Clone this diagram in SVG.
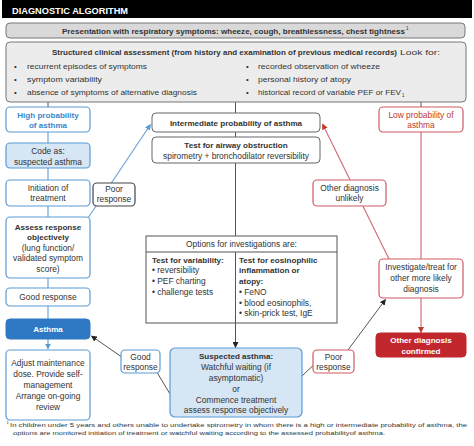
<svg xmlns="http://www.w3.org/2000/svg" width="474" height="446" viewBox="0 0 474 446">
<style>
text{font-family:"Liberation Sans",Arial,sans-serif;fill:#333;font-size:8.4px}
.c{text-anchor:middle}
.b{font-weight:bold;font-size:8.1px}
.box{fill:#fff;stroke:#666;stroke-width:1}
.blue{fill:#fff;stroke:#5b9bd5;stroke-width:1.2}
.lblue{fill:#d6e6f4;stroke:#5b9bd5;stroke-width:1.2}
.red{fill:#fff;stroke:#cf5a63;stroke-width:1.2}
.bt{fill:#3b86c8}
.rt{fill:#c0392b}
.w{fill:#fff}
.ln{stroke:#555;stroke-width:1;fill:none}
.lb{stroke:#6fa4d8;stroke-width:1.2;fill:none}
.lr{stroke:#d0707a;stroke-width:1.2;fill:none}
.fn{font-size:6.2px}
.s{font-size:7.8px}
</style>
<defs>
<marker id="ab" viewBox="0 0 10 10" refX="9" refY="5" markerWidth="6" markerHeight="6" markerUnits="userSpaceOnUse" orient="auto"><path d="M0,0L10,5L0,10z" fill="#5b9bd5"/></marker>
<marker id="ar" viewBox="0 0 10 10" refX="9" refY="5" markerWidth="6" markerHeight="6" markerUnits="userSpaceOnUse" orient="auto"><path d="M0,0L10,5L0,10z" fill="#c0392b"/></marker>
<marker id="ak" viewBox="0 0 10 10" refX="9" refY="5" markerWidth="6" markerHeight="6" markerUnits="userSpaceOnUse" orient="auto"><path d="M0,0L10,5L0,10z" fill="#222"/></marker>
</defs>
<rect width="474" height="446" fill="#fff"/>

<g id="header">
<rect x="2" y="0" width="470" height="18" fill="#000"/>
<text x="12" y="13.5" class="b w" style="font-size:8.5px" textLength="116" lengthAdjust="spacingAndGlyphs">DIAGNOSTIC ALGORITHM</text>
</g>

<g id="connectors">
<line class="ln" x1="48" y1="102" x2="48" y2="107"/>
<line class="lb" x1="48" y1="107" x2="48" y2="349" marker-end="url(#ab)"/>
<line class="ln" x1="235.5" y1="102" x2="235.5" y2="113"/>
<line class="ln" x1="235.5" y1="132" x2="235.5" y2="137"/>
<line class="ln" x1="235.5" y1="163" x2="235.5" y2="236"/>
<line class="ln" x1="235.5" y1="323" x2="235.5" y2="347.5" marker-end="url(#ak)"/>
<line class="ln" x1="421" y1="102" x2="421" y2="107"/>
<line class="lr" x1="421" y1="132" x2="421" y2="259"/>
<line class="lr" x1="421" y1="298" x2="421" y2="332.5" marker-end="url(#ar)"/>
<line class="lb" x1="88" y1="218" x2="150.5" y2="124.5" marker-end="url(#ab)"/>
<line class="lr" x1="389" y1="259" x2="322.5" y2="124" marker-end="url(#ar)"/>
<line class="ln" x1="170" y1="394" x2="152" y2="364"/>
<line class="ln" x1="126" y1="360" x2="91.5" y2="336" marker-end="url(#ak)"/>
<line class="ln" x1="302" y1="376" x2="322" y2="357"/>
<line class="ln" x1="342" y1="358" x2="385.5" y2="299.5" marker-end="url(#ak)"/>
</g>

<g id="presentation">
<rect x="6" y="23" width="459" height="15" rx="4" fill="#d9d9d9" stroke="#777"/>
<text x="62" y="33.5" class="b" style="font-size:8px" textLength="343" lengthAdjust="spacingAndGlyphs">Presentation with respiratory symptoms:  wheeze, cough, breathlessness, chest tightness</text>
<text x="406" y="29.5" style="font-size:4.5px">1</text>
</g>

<g id="assessment">
<rect x="6" y="42" width="460" height="60" rx="4" fill="#ececec" stroke="#777"/>
<text x="52" y="54.5" class="b" style="font-size:8px" textLength="345" lengthAdjust="spacingAndGlyphs">Structured clinical assessment (from history and examination of previous medical records)</text>
<text x="400" y="54.5" class="s" textLength="40" lengthAdjust="spacingAndGlyphs">Look for:</text>
<text x="14" y="68.5" class="s">•</text><text x="27" y="68.5" class="s" textLength="120" lengthAdjust="spacingAndGlyphs">recurrent episodes of symptoms</text>
<text x="14" y="81.5" class="s">•</text><text x="27" y="81.5" class="s" textLength="75" lengthAdjust="spacingAndGlyphs">symptom variability</text>
<text x="14" y="95" class="s">•</text><text x="27" y="95" class="s" textLength="170" lengthAdjust="spacingAndGlyphs">absence of symptoms of alternative diagnosis</text>
<text x="246" y="68.5" class="s">•</text><text x="258" y="68.5" class="s" textLength="122" lengthAdjust="spacingAndGlyphs">recorded observation of wheeze</text>
<text x="246" y="81.5" class="s">•</text><text x="258" y="81.5" class="s" textLength="93" lengthAdjust="spacingAndGlyphs">personal history of atopy</text>
<text x="246" y="95" class="s">•</text><text x="258" y="95" class="s" textLength="143" lengthAdjust="spacingAndGlyphs">historical record of variable PEF or FEV</text><text x="402" y="96.5" style="font-size:4.5px">1</text>
</g>

<g id="high">
<rect class="blue" x="6" y="107" width="84" height="25" rx="4"/>
<text x="48" y="117.5" class="c b bt">High probability</text>
<text x="48" y="128" class="c b bt">of asthma</text>
</g>
<g id="code">
<rect class="lblue" x="6" y="143" width="84" height="25" rx="4"/>
<text x="48" y="154" class="c">Code as:</text>
<text x="48" y="164.5" class="c">suspected asthma</text>
</g>
<g id="initiation">
<rect class="blue" x="6" y="180" width="84" height="26" rx="4"/>
<text x="48" y="190.5" class="c">Initiation of</text>
<text x="48" y="201" class="c">treatment</text>
</g>
<g id="poor-left">
<rect class="box" x="93" y="183" width="42" height="23" rx="4" style="stroke:#444;stroke-width:1.2"/>
<text x="114" y="191.5" class="c">Poor</text>
<text x="114" y="202" class="c">response</text>
</g>
<g id="assess">
<rect class="blue" x="6" y="217" width="84" height="61" rx="4"/>
<text x="48" y="229.5" class="c b">Assess response</text>
<text x="48" y="240" class="c b">objectively</text>
<text x="48" y="250.5" class="c">(lung function/</text>
<text x="48" y="261" class="c">validated symptom</text>
<text x="48" y="271.5" class="c">score)</text>
</g>
<g id="good-left">
<rect class="blue" x="6" y="288" width="84" height="18" rx="4"/>
<text x="48" y="300" class="c">Good response</text>
</g>
<g id="asthma">
<rect x="6" y="319" width="84" height="20" rx="4" fill="#2f78c4" stroke="#2f78c4"/>
<text x="48" y="332" class="c b w">Asthma</text>
</g>
<g id="adjust">
<rect class="blue" x="6" y="350" width="84" height="70" rx="4"/>
<text x="48" y="366" class="c">Adjust maintenance</text>
<text x="48" y="377" class="c">dose. Provide self-</text>
<text x="48" y="388" class="c">management</text>
<text x="48" y="399" class="c">Arrange on-going</text>
<text x="48" y="410" class="c">review</text>
</g>

<g id="intermediate">
<rect class="box" x="152" y="113" width="168" height="19" rx="4"/>
<text x="236" y="125.5" class="c b">Intermediate probability of asthma</text>
</g>
<g id="test">
<rect class="box" x="152" y="137" width="168" height="26" rx="4"/>
<text x="236" y="147.5" class="c b">Test for airway obstruction</text>
<text x="236" y="158.5" class="c">spirometry + bronchodilator reversibility</text>
</g>
<g id="options">
<rect x="146" y="236" width="191" height="87" fill="#fff" stroke="#555"/>
<line x1="146" y1="252" x2="337" y2="252" stroke="#555"/>
<line x1="235.5" y1="252" x2="235.5" y2="323" stroke="#555"/>
<text x="241.5" y="246.5" class="c">Options for investigations are:</text>
<text x="152" y="262.5" class="b">Test for variability:</text>
<text x="152" y="273">• reversibility</text>
<text x="152" y="284">• PEF charting</text>
<text x="152" y="295">• challenge tests</text>
<text x="239" y="262.5" class="b">Test for eosinophilic</text>
<text x="239" y="273" class="b">inflammation or</text>
<text x="239" y="284" class="b">atopy:</text>
<text x="239" y="295">• FeNO</text>
<text x="239" y="305.5">• blood eosinophils,</text>
<text x="239" y="316">• skin-prick test, IgE</text>
</g>
<g id="good-center">
<rect class="blue" x="121" y="350" width="39" height="23" rx="4"/>
<text x="140.5" y="359.5" class="c">Good</text>
<text x="140.5" y="370" class="c">response</text>
</g>
<g id="suspected">
<rect class="lblue" x="170" y="348" width="132" height="69" rx="5"/>
<text x="236" y="358.5" class="c b">Suspected asthma:</text>
<text x="236" y="369.5" class="c">Watchful waiting (if</text>
<text x="236" y="380.5" class="c">asymptomatic)</text>
<text x="236" y="391.5" class="c">or</text>
<text x="236" y="402.5" class="c">Commence treatment</text>
<text x="236" y="413" class="c">assess response objectively</text>
</g>
<g id="poor-right">
<rect class="red" x="313" y="350" width="41" height="23" rx="4"/>
<text x="333.5" y="359.5" class="c">Poor</text>
<text x="333.5" y="370" class="c">response</text>
</g>

<g id="low">
<rect class="red" x="379" y="107" width="84" height="25" rx="4"/>
<text x="421" y="117.5" class="c rt">Low probability of</text>
<text x="421" y="128" class="c rt">asthma</text>
</g>
<g id="unlikely">
<rect class="red" x="313" y="180" width="73" height="26" rx="4"/>
<text x="349.5" y="190.5" class="c">Other diagnosis</text>
<text x="349.5" y="201" class="c">unlikely</text>
</g>
<g id="investigate">
<rect class="red" x="379" y="259" width="84" height="39" rx="4"/>
<text x="421" y="269.5" class="c">Investigate/treat for</text>
<text x="421" y="280.5" class="c">other more likely</text>
<text x="421" y="291.5" class="c">diagnosis</text>
</g>
<g id="confirmed">
<rect x="376" y="333" width="90" height="24" rx="4" fill="#c1272d" stroke="#c1272d"/>
<text x="421" y="343" class="c b w">Other diagnosis</text>
<text x="421" y="353.5" class="c b w">confirmed</text>
</g>

<g id="footnote">
<text x="6.5" y="424" style="font-size:4px">1</text>
<text x="10" y="427" class="fn" textLength="457" lengthAdjust="spacingAndGlyphs">In children under 5 years and others unable to undertake spirometry in whom there is a high or intermediate probability of asthma, the</text>
<text x="13" y="434.5" class="fn" textLength="372" lengthAdjust="spacingAndGlyphs">options are monitored initiation of treatment or watchful waiting according to the assessed probabilityof asthma.</text>
</g>
</svg>
